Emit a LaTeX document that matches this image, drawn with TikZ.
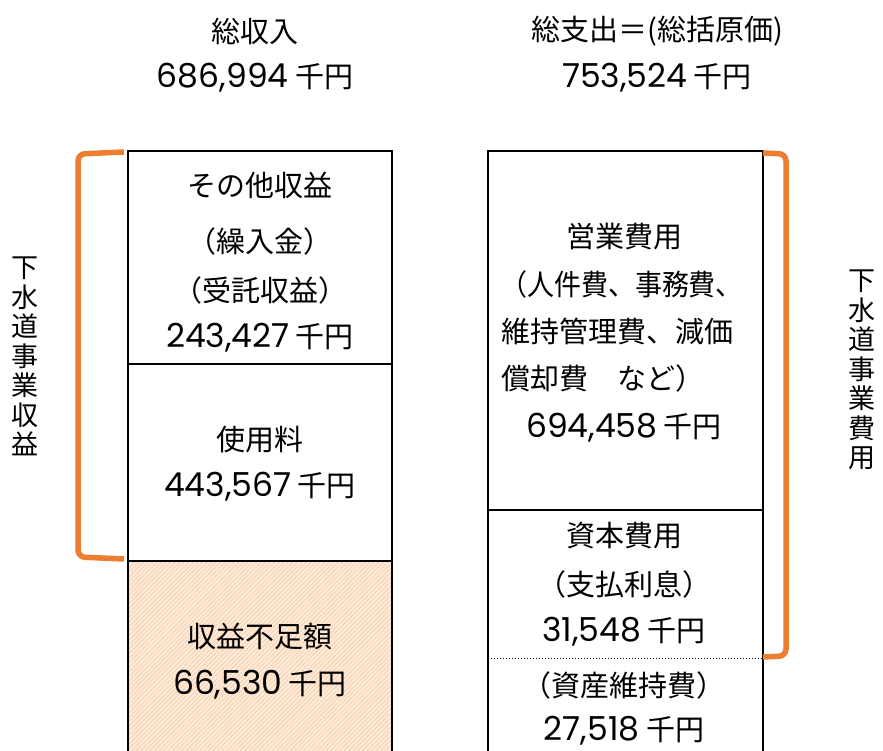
\documentclass[tikz,border=0pt]{standalone}
\usepackage{fontspec}
\setmainfont{Noto Sans CJK JP}
\newfontfamily\numf{Poppins}
\newcommand{\nm}[1]{{\numf\fontsize{33}{33}\selectfont #1}}
\usetikzlibrary{patterns.meta}
\definecolor{orng}{HTML}{ED7D31}
\definecolor{peach}{HTML}{FDEBDC}
\definecolor{hatch}{HTML}{F8C9A0}
\begin{document}
\begin{tikzpicture}[x=1pt,y=-1pt,
  txt/.style={font=\fontsize{29}{32}\selectfont, inner sep=0pt, anchor=center},
  ltxt/.style={txt, anchor=west},
  vtxt/.style={font=\fontsize{27}{29.5}\selectfont, inner sep=0pt, align=center, anchor=north},
  box/.style={draw=black, line width=2.6pt},
  brk/.style={draw=orng, line width=5.5pt, rounded corners=7pt}]
\useasboundingbox (0,0) rectangle (883,751);
\clip (0,0) rectangle (883,751);
% headings
\node[txt] (h1) at (255,31) {総収入};
\node[txt] (h1v) at (255,78) {\nm{686,994} 千円};
\node[txt] (h2) at (657,31) {総支出＝(総括原価)};
\node[txt] (h2v) at (657,78) {\nm{753,524} 千円};
% left column
\fill[peach] (128,561) rectangle (392,760);
\fill[pattern={Lines[angle=45,distance=3.2pt,line width=0.7pt]}, pattern color=hatch] (128,561) rectangle (392,760);
\draw[box] (128,760) -- (128,151) -- (392,151) -- (392,760);
\draw[box] (128,364) -- (392,364);
\draw[box] (128,561) -- (392,561);
\node[txt] (a1) at (260,185) {その他収益};
\node[txt] (a2) at (260,241) {（繰入金）};
\node[txt] (a3) at (260,290) {（受託収益）};
\node[txt] (a4) at (260,338) {\nm{243,427} 千円};
\node[txt] (b1) at (260,440) {使用料};
\node[txt] (b2) at (260,487) {\nm{443,567} 千円};
\node[txt] (c1) at (260,636) {収益不足額};
\node[txt] (c2) at (260,685) {\nm{66,530} 千円};
% right column
\draw[box] (488,760) -- (488,151) -- (763,151) -- (763,760);
\draw[box] (488,510) -- (763,510);
\draw[black, line width=1pt, dotted] (488,658) -- (763,658);
\node[txt] (d1) at (624,237) {営業費用};
\node[ltxt] (d2) at (500,284) {\scalebox{0.93}[1]{（人件費、事務費、}};
\node[ltxt] (d3) at (501,331) {維持管理費、減価};
\node[ltxt] (d4) at (501,378) {償却費　など）};
\node[txt] (d5) at (624,428) {\nm{694,458} 千円};
\node[txt] (e1) at (624,536) {資本費用};
\node[txt] (e2) at (624,584) {（支払利息）};
\node[txt] (e3) at (624,632) {\nm{31,548} 千円};
\node[txt] (f1) at (624,685) {（資産維持費）};
\node[txt] (f2) at (624,731) {\nm{27,518} 千円};
% brackets
\draw[brk] (124,152) -- (78,154) -- (78,557) -- (124,559);
\draw[brk] (763,153) -- (786,154) -- (786,656) -- (763,657);
% vertical labels
\node[vtxt] (vl) at (25,257) {下\\水\\道\\事\\業\\収\\益};
\node[vtxt] (vr) at (862,270) {下\\水\\道\\事\\業\\費\\用};
\end{tikzpicture}
\end{document}
